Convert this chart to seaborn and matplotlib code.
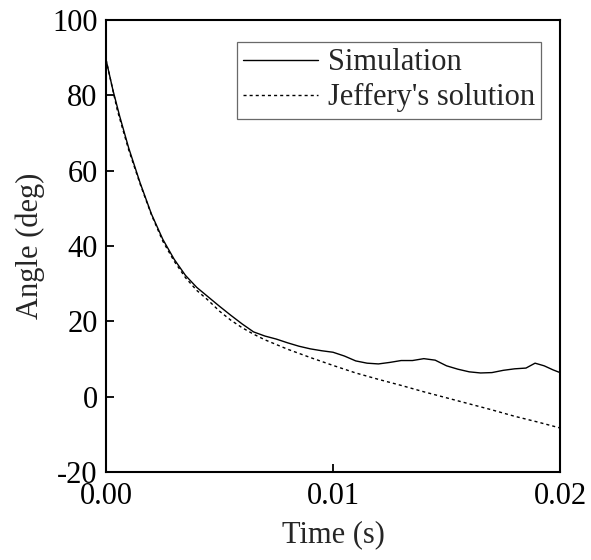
import matplotlib
matplotlib.use("Agg")
import matplotlib.pyplot as plt
import seaborn as sns
import pandas as pd

sim_t = [0, 0.0003, 0.0006, 0.001, 0.0015, 0.002, 0.0025, 0.003, 0.0035, 0.004,
         0.0045, 0.005, 0.0055, 0.006, 0.0065, 0.007, 0.0075, 0.008, 0.0085, 0.009,
         0.0095, 0.01, 0.0105, 0.011, 0.0115, 0.012, 0.0125, 0.013, 0.0135, 0.014,
         0.0145, 0.015, 0.0155, 0.016, 0.0165, 0.017, 0.0175, 0.018, 0.0185, 0.0189,
         0.0193, 0.0197, 0.02]
sim_v = [89.5, 81.5, 74.5, 66.0, 56.8, 48.5, 41.8, 36.5, 32.2, 29.0,
         26.5, 24.0, 21.6, 19.3, 17.2, 16.1, 15.3, 14.3, 13.4, 12.7,
         12.2, 11.8, 10.8, 9.5, 8.9, 8.7, 9.1, 9.6, 9.6, 10.1,
         9.7, 8.2, 7.3, 6.6, 6.3, 6.4, 7.0, 7.4, 7.6, 8.9,
         8.2, 7.1, 6.4]

jef_t = [0, 0.0005, 0.001, 0.0015, 0.002, 0.0025, 0.003, 0.0035, 0.004, 0.0045,
         0.005, 0.0055, 0.006, 0.0065, 0.007, 0.008, 0.009, 0.01, 0.011, 0.012,
         0.013, 0.014, 0.015, 0.016, 0.017, 0.018, 0.019, 0.02]
jef_v = [89.5, 76.0, 65.5, 56.5, 48.3, 41.3, 36.0, 31.6, 28.2, 25.6,
         22.7, 20.3, 18.3, 16.6, 15.1, 12.6, 10.4, 8.3, 6.3, 4.6,
         3.0, 1.3, -0.3, -1.9, -3.5, -5.2, -6.7, -8.3]

series_names = ["Simulation", "Jeffery's solution"]
x_ticks = [0, 0.01, 0.02]
x_ticklabels = ["0.00", "0.01", "0.02"]
y_ticks = [-20, 0, 20, 40, 60, 80, 100]

df = pd.concat([
    pd.DataFrame({"t": sim_t, "v": sim_v, "series": series_names[0]}),
    pd.DataFrame({"t": jef_t, "v": jef_v, "series": series_names[1]}),
], ignore_index=True)

sns.set_style("ticks")
plt.rcParams["font.family"] = ["Liberation Serif", "DejaVu Serif"]
plt.rcParams["axes.unicode_minus"] = False

FS = 22

fig = plt.figure(figsize=(5.91, 5.6), dpi=100)
ax = fig.add_axes([0.1794, 0.1571, 0.7682, 0.8071])

sns.lineplot(data=df, x="t", y="v", hue="series", style="series",
             palette={series_names[0]: "black", series_names[1]: "black"},
             dashes={series_names[0]: "", series_names[1]: (2.2, 2.2)},
             linewidth=1.0, sort=False, ax=ax)

ax.set_xlim(0, 0.02)
ax.set_ylim(-20, 100)
ax.set_xticks(x_ticks)
ax.set_xticklabels(x_ticklabels)
ax.set_yticks(y_ticks)
ax.tick_params(axis="both", direction="in", length=6, width=1.3,
               labelsize=FS, colors="black")
ax.tick_params(axis="y", pad=6)
ax.tick_params(axis="x", pad=7)
for s in ax.spines.values():
    s.set_linewidth(1.5)
    s.set_color("black")
    s.set_visible(True)

ax.set_xlabel("Time (s)", fontsize=FS, labelpad=7)
ax.set_ylabel("Angle (deg)", fontsize=FS, labelpad=5)

handles, labels = ax.get_legend_handles_labels()
leg = ax.legend(handles, labels, loc="upper right", bbox_to_anchor=(0.958, 0.951),
                fontsize=FS, frameon=True, fancybox=False, handlelength=2.45,
                handletextpad=0.33, borderpad=0.2, labelspacing=0.2,
                borderaxespad=0)
leg.get_frame().set_edgecolor("#444444")
leg.get_frame().set_linewidth(0.9)
for h in leg.get_lines():
    h.set_linewidth(1.0)

fig.savefig("out.png", dpi=100)
